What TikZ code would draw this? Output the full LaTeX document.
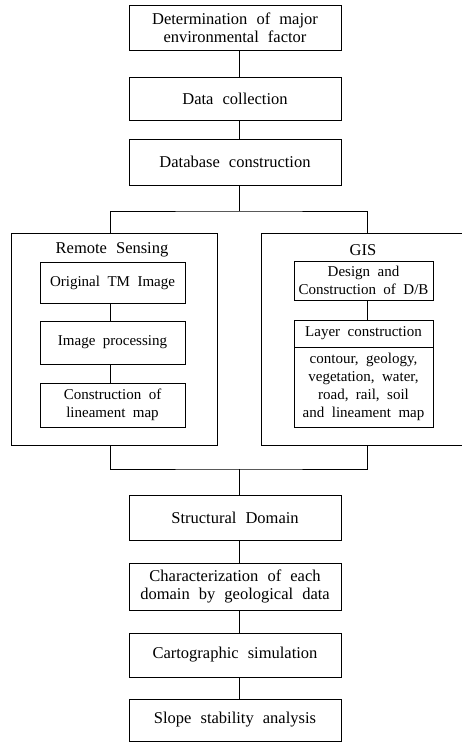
\documentclass[tikz,border=0pt]{standalone}
\usepackage{fontspec}
\setmainfont{Liberation Serif}
\usetikzlibrary{calc}
\newcommand{\bigf}{\fontsize{16.5}{18}\selectfont\spaceskip=0.55em\relax}
\newcommand{\smf}{\fontsize{15}{18}\selectfont\spaceskip=0.5em\relax}
\tikzset{
  box/.style={draw, line width=0.7pt, rectangle, inner sep=0pt, align=center, font=\bigf},
  inbox/.style={draw, line width=0.7pt, rectangle, inner sep=0pt, align=center, font=\smf},
  conn/.style={line width=0.7pt},
  title/.style={inner sep=0pt, font=\bigf}
}
\begin{document}
\begin{tikzpicture}[x=1pt,y=-1pt]
\useasboundingbox (0,0) rectangle (462,742);
\coordinate (trunk) at (239,0);
\coordinate (lx) at (110,0);
\coordinate (rx) at (367,0);
\coordinate (split) at (239,211);
\coordinate (merge) at (239,469);
% top chain
\node[box, minimum width=212pt, minimum height=45pt] (b1) at (235,27.5) {Determination of major\\environmental factor};
\node[box, minimum width=212pt, minimum height=43pt] (b2) at (235,98.5) {Data collection};
\node[box, minimum width=212pt, minimum height=46pt] (b3) at (235,162) {Database construction};
% outer boxes
\node[draw, line width=0.7pt, minimum width=206pt, minimum height=212pt, inner sep=0pt] (rs) at (114,339) {};
\node[title] (rst) at (112,250) {Remote Sensing};
\node[draw, line width=0.7pt, minimum width=204pt, minimum height=212pt, inner sep=0pt] (gis) at (363,339) {};
\node[title] (gist) at (363,250) {GIS};
% left inner
\node[inbox, minimum width=145pt, minimum height=41pt] (orig) at (112.5,282.5) {Original TM Image};
\node[inbox, minimum width=145pt, minimum height=43pt] (imgp) at (112.5,342.5) {Image processing};
\node[inbox, minimum width=145pt, minimum height=44pt] (lin) at (112.5,405) {Construction of\\lineament map};
% right inner
\node[inbox, minimum width=139pt, minimum height=39pt] (dsg) at (363.5,280.5) {Design and\\Construction of D/B};
\node[inbox, minimum width=139pt, minimum height=27pt] (lay) at (363.5,333.5) {Layer construction};
\node[inbox, minimum width=139pt, minimum height=80pt] (layb) at (363.5,387) {contour, geology,\\vegetation, water,\\road, rail, soil\\and lineament map};
% bottom chain
\node[box, minimum width=212pt, minimum height=45pt] (sd) at (235,517.5) {Structural Domain};
\node[box, minimum width=212pt, minimum height=47pt] (ch) at (235,586.5) {Characterization of each\\domain by geological data};
\node[box, minimum width=212pt, minimum height=44pt] (ca) at (235,655) {Cartographic simulation};
\node[box, minimum width=212pt, minimum height=42pt] (sl) at (235,720) {Slope stability analysis};
% connectors
\draw[conn] (b1.south -| trunk) -- (b2.north -| trunk);
\draw[conn] (b2.south -| trunk) -- (b3.north -| trunk);
\draw[conn] (b3.south -| trunk) -- (split);
\draw[conn] (rs.north -| lx) |- (split) -| (gis.north -| rx);
\draw[conn] (orig.south -| lx) -- (imgp.north -| lx);
\draw[conn] (imgp.south -| lx) -- (lin.north -| lx);
\draw[conn] (dsg.south -| rx) -- (lay.north -| rx);
\draw[conn] (rs.south -| lx) |- (merge) -| (gis.south -| rx);
\draw[conn] (merge) -- (sd.north -| trunk);
\draw[conn] (sd.south -| trunk) -- (ch.north -| trunk);
\draw[conn] (ch.south -| trunk) -- (ca.north -| trunk);
\draw[conn] (ca.south -| trunk) -- (sl.north -| trunk);
\end{tikzpicture}
\end{document}
